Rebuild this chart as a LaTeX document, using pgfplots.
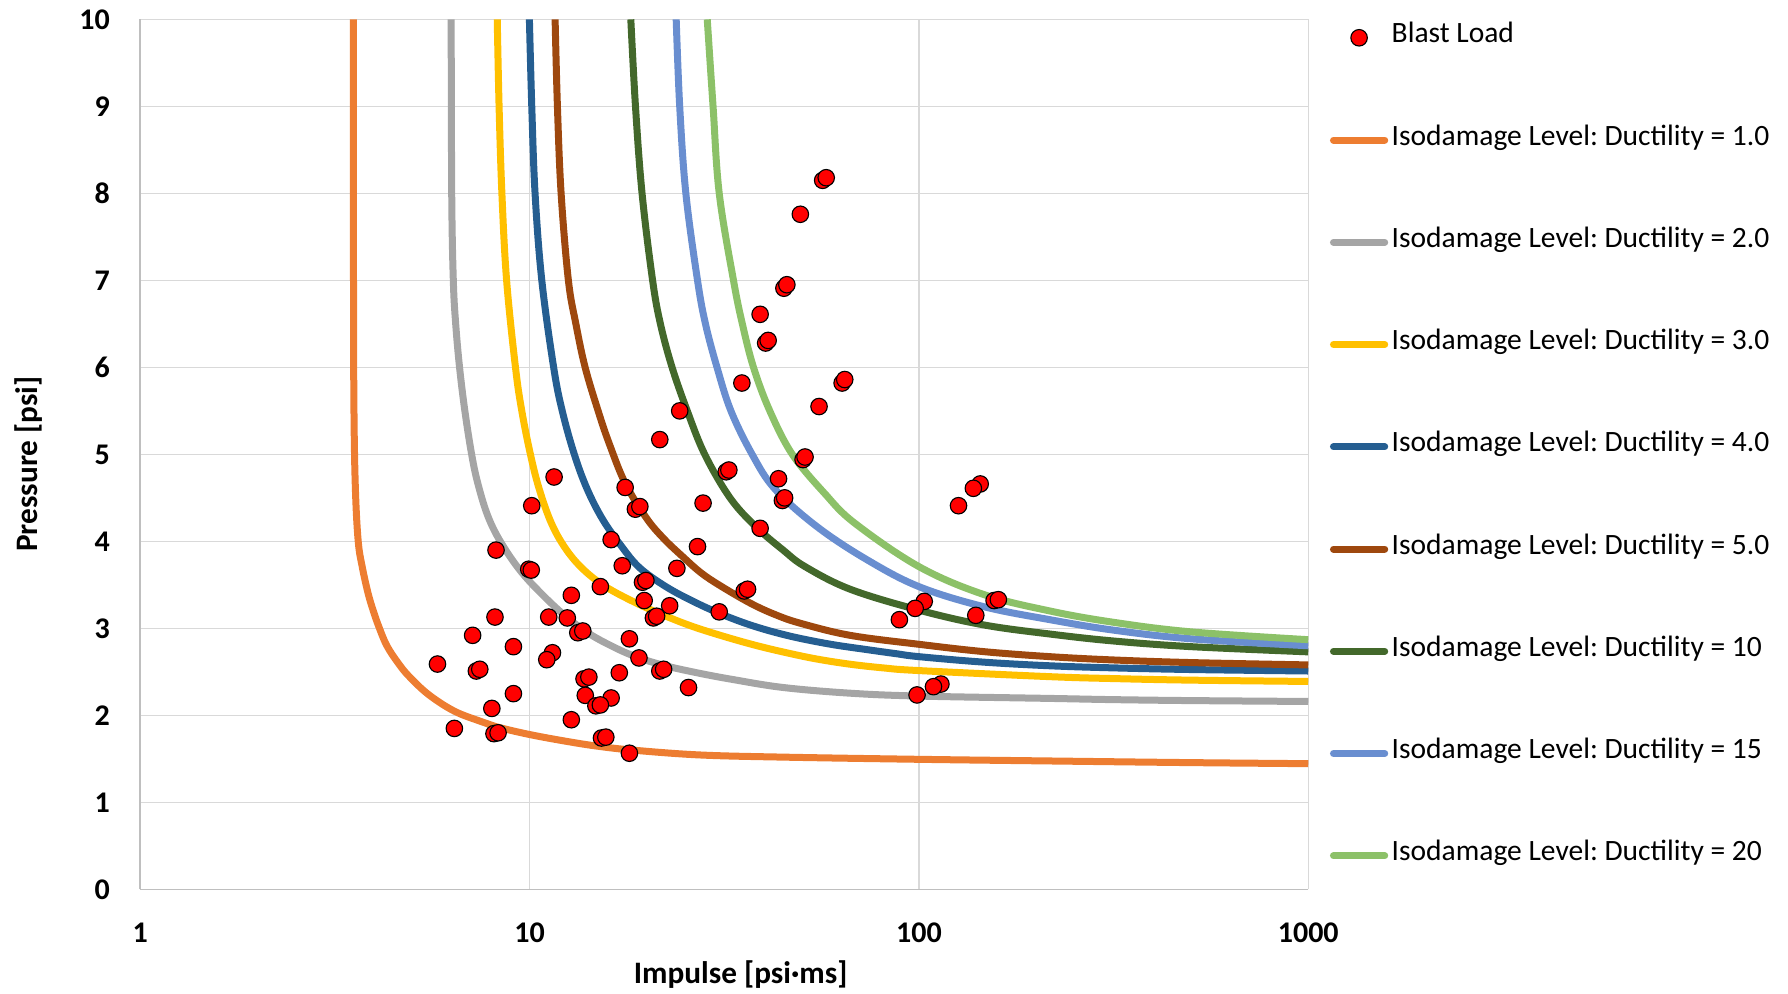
\documentclass[border=0pt]{standalone}
\usepackage{fontspec}
\setmainfont{Carlito}
\frenchspacing
\usepackage{pgfplots}
\pgfplotsset{compat=1.18}
\usepackage{pgfplotstable}
\definecolor{cA}{HTML}{ED7D31}
\definecolor{cB}{HTML}{A5A5A5}
\definecolor{cC}{HTML}{FFC000}
\definecolor{cD}{HTML}{255E91}
\definecolor{cE}{HTML}{9E480E}
\definecolor{cF}{HTML}{43682B}
\definecolor{cG}{HTML}{698ED0}
\definecolor{cH}{HTML}{8CC168}
\definecolor{gridc}{HTML}{D9D9D9}
\definecolor{axisc}{HTML}{BFBFBF}
\pgfplotsset{
  linelegend/.style={legend image code/.code={\draw[##1, line cap=round] (0pt,0pt) -- (20.5pt,0pt);}},
  marklegend/.style={legend image code/.code={\draw[##1, draw=none, mark repeat=2, mark phase=2] plot coordinates {(0pt,0pt) (10.25pt,0pt) (20.5pt,0pt)};}},
  curve/.style={no marks, line width=2.8pt, smooth, tension=0.6},
}

\pgfplotstableread{
I P
35.1 5.82
24.3 5.50
21.6 5.17
32.0 4.80
32.5 4.82
43.6 4.72
44.6 4.47
45.2 4.50
11.56 4.74
10.13 4.41
17.6 4.62
18.7 4.37
19.2 4.40
27.9 4.44
39.1 4.15
16.2 4.02
8.2 3.90
27.0 3.94
9.95 3.68
10.1 3.67
17.3 3.72
23.9 3.69
19.5 3.53
19.9 3.55
15.2 3.48
35.6 3.43
36.3 3.45
12.8 3.38
19.7 3.32
22.9 3.26
20.8 3.12
21.2 3.14
30.7 3.19
8.15 3.13
11.2 3.13
12.5 3.12
13.3 2.95
13.7 2.97
7.14 2.92
18.05 2.88
9.09 2.79
11.45 2.72
11.07 2.64
19.1 2.66
5.8 2.59
7.3 2.51
7.45 2.53
21.6 2.51
22.1 2.53
17.0 2.49
13.8 2.42
14.2 2.44
25.6 2.32
9.09 2.25
13.9 2.23
16.2 2.20
14.8 2.11
15.2 2.12
8.0 2.08
12.8 1.95
6.41 1.85
8.1 1.79
8.3 1.80
15.3 1.74
15.7 1.75
18.05 1.565
56.6 8.15
57.8 8.18
49.6 7.76
45.0 6.91
45.8 6.95
39.1 6.61
40.4 6.28
41.0 6.31
63.5 5.82
64.5 5.86
55.4 5.55
50.4 4.94
51.0 4.97
143.7 4.66
138 4.61
126.4 4.41
156 3.32
160 3.33
103.2 3.31
97.8 3.23
140 3.15
89.1 3.10
113.9 2.36
109 2.33
98.9 2.235
}\blast

\pgfplotstableread{
I P
3.53 10
3.53 7
3.54 5.5
3.57 4.6
3.63 4.0
3.72 3.7
3.85 3.4
3.97 3.2
4.1 3.02
4.3 2.8
4.6 2.6
4.9 2.45
5.5 2.24
6.4 2.05
7.5 1.93
8.2 1.87
10 1.78
12.5 1.70
15 1.645
18.5 1.60
27.4 1.545
45 1.52
100 1.495
217 1.476
500 1.457
1000 1.445
}\dA

\pgfplotstableread{
I P
6.29 10
6.31 8
6.37 7
6.46 6.5
6.61 6
6.82 5.5
7.1 5.0
7.36 4.67
7.80 4.3
8.41 4.0
9.44 3.67
10.72 3.4
12.3 3.15
14.1 2.95
16.2 2.8
18.6 2.68
21.9 2.58
26.9 2.49
33.5 2.41
44.9 2.32
66.6 2.255
100 2.222
217 2.195
316 2.181
500 2.17
1000 2.16
}\dB

\pgfplotstableread{
I P
8.26 10
8.35 9
8.49 8
8.73 7
9.20 6
9.55 5.5
10.05 5.0
10.59 4.6
11.40 4.2
12.45 3.9
13.80 3.67
15.67 3.48
18.62 3.30
22.13 3.15
26.30 3.02
31.99 2.90
38.46 2.80
45.71 2.72
54.33 2.65
66.07 2.59
81.28 2.545
100 2.515
217 2.445
316 2.423
500 2.405
1000 2.39
}\dC

\pgfplotstableread{
I P
9.99 10
10.13 9
10.33 8
10.75 7
11.53 6
12.13 5.5
13.03 5
14.06 4.6
15.42 4.25
17.18 3.95
19.14 3.7
22.39 3.48
26.61 3.30
31.62 3.15
38.02 3.02
46.77 2.91
58.88 2.82
72.44 2.76
87.1 2.71
100 2.675
146.6 2.612
217 2.57
316 2.546
500 2.527
1000 2.51
}\dD

\pgfplotstableread{
I P
11.63 10
11.79 9
12.05 8
12.58 7
13.15 6.5
13.89 6
15.0 5.5
16.0 5.13
17.6 4.67
19.95 4.27
22.13 4.03
24.8 3.82
27.54 3.64
30.9 3.49
36.9 3.29
42.66 3.16
49.5 3.06
66.6 2.92
100 2.817
146.6 2.733
217 2.675
316 2.637
500 2.607
1000 2.58
}\dE

\pgfplotstableread{
I P
18.2 10
18.71 9
19.45 8
20.7 7
21.68 6.5
23.23 6
25.41 5.5
28.18 5
32.73 4.5
38.1 4.17
44.8 3.9
51.0 3.71
66.6 3.45
100 3.21
146.6 3.04
217 2.935
316 2.855
500 2.79
1000 2.73
}\dF

\pgfplotstableread{
I P
23.8 10
24.3 9
25.2 8
27.0 7
28.3 6.5
30.3 6
32.9 5.5
37.3 5
42.7 4.6
54.7 4.17
73.5 3.79
100 3.48
146.6 3.25
217 3.10
316 2.98
500 2.88
1000 2.80
}\dG

\pgfplotstableread{
I P
28.6 10
29.6 9
30.7 8
33.4 7
35.2 6.5
37.6 6
41.4 5.5
47.3 5
57.3 4.55
68.4 4.21
100 3.71
146.6 3.39
217 3.20
316 3.07
500 2.96
1000 2.87
}\dH

\begin{document}
\begin{tikzpicture}
\useasboundingbox (-56.1pt,-41.84pt) rectangle (659.1pt,355.76pt);
\begin{axis}[
  scale only axis, width=467.2pt, height=348pt,
  xmode=log, log basis x=10,
  xmin=1, xmax=1000, ymin=0, ymax=10,
  xtick={1,10,100,1000}, xticklabels={1,10,100,1000},
  ytick={0,1,2,3,4,5,6,7,8,9,10},
  xminorticks=false, yminorticks=false,
  major tick length=0pt,
  grid=major,
  major grid style={draw=gridc, line width=0.55pt},
  axis x line*=bottom, axis y line*=left,
  axis line style={draw=axisc, line width=0.6pt, -},
  /pgf/number format/assume math mode=true,
  ticklabel style={font=\bfseries\fontsize{12}{14}\selectfont},
  yticklabel style={anchor=east, inner sep=0pt, xshift=-12pt},
  xticklabel style={anchor=north, inner sep=0pt, yshift=-13.3pt},
  xlabel={Impulse [psi·ms]},
  ylabel={Pressure [psi]},
  label style={font=\bfseries\fontsize{12.5}{15}\selectfont},
  xlabel style={at={(axis description cs:0.514,-0.0984)}, anchor=center, inner sep=0pt},
  ylabel style={at={(axis description cs:-0.0957,0.489)}, anchor=center, inner sep=0pt},
  legend style={draw=none, fill=none, at={(1.0186,0.9961)}, anchor=north west,
    inner sep=0pt, outer sep=0pt, row sep=28.9pt, column sep=1.4pt,
    font=\fontsize{11.8}{14}\selectfont,
    nodes={inner sep=0pt, text height=8pt, text depth=4pt}},
  legend cell align=left,
  linelegend,
]
\addlegendimage{only marks, mark=*, mark size=3.3pt,
  mark options={draw=black, fill=red, line width=0.45pt}, marklegend}
\addlegendentry{Blast Load}
\addplot[cA, curve] table {\dA};
\addlegendentry{Isodamage Level: Ductility = 1.0}
\addplot[cB, curve] table {\dB};
\addlegendentry{Isodamage Level: Ductility = 2.0}
\addplot[cC, curve] table {\dC};
\addlegendentry{Isodamage Level: Ductility = 3.0}
\addplot[cD, curve] table {\dD};
\addlegendentry{Isodamage Level: Ductility = 4.0}
\addplot[cE, curve] table {\dE};
\addlegendentry{Isodamage Level: Ductility = 5.0}
\addplot[cF, curve] table {\dF};
\addlegendentry{Isodamage Level: Ductility = 10}
\addplot[cG, curve] table {\dG};
\addlegendentry{Isodamage Level: Ductility = 15}
\addplot[cH, curve] table {\dH};
\addlegendentry{Isodamage Level: Ductility = 20}
\addplot[only marks, mark=*, mark size=3.3pt, line width=0.45pt,
  mark options={draw=black, fill=red}, forget plot] table {\blast};
\end{axis}
\end{tikzpicture}
\end{document}
